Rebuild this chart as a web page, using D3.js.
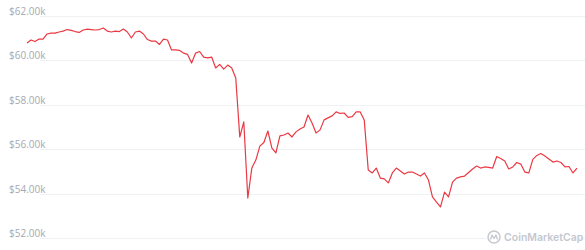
<!DOCTYPE html>
<html>
<head>
<meta charset="utf-8">
<script src="https://cdn.jsdelivr.net/npm/d3@7"></script>
<style>
  body { margin: 0; background: #fff; }
  .c-grid line { stroke: #eff2f5; stroke-width: 1; }
  .c-grid text { fill: #a6a9b0; font-family: "Open Sans", sans-serif; font-size: 10px; }
  .c-line path { fill: none; stroke: #ea3943; stroke-width: 1.2; stroke-linejoin: round; }
</style>
</head>
<body>
<div id="priceChart"></div>
<script>
// price samples (USD), evenly spaced in time
const prices = [
  60780, 60920, 60850, 60960, 60960, 61190, 61230, 61230, 61280, 61320,
  61390, 61350, 61300, 61260, 61370, 61410, 61390, 61370, 61390, 61460,
  61320, 61280, 61320, 61300, 61410, 61280, 61010, 61280, 61320, 61190,
  60940, 60870, 60870, 60720, 60960, 60920, 60470, 60470, 60450, 60330,
  60270, 59880, 60330, 60400, 60150, 60110, 60150, 59660, 59820, 59610,
  59790, 59660, 59210, 56550, 57230, 53800, 55150, 55510, 56140, 56300,
  56820, 56050, 55830, 56600, 56640, 56730, 56550, 56780, 56910, 57000,
  57540, 57180, 56730, 56870, 57320, 57410, 57500, 57680, 57610, 57630,
  57430, 57470, 57680, 57680, 57320, 55060, 54930, 55150, 54700, 54660,
  54480, 54930, 55150, 55020, 54880, 54970, 54970, 54880, 54790, 54930,
  54610, 53850, 53620, 53400, 54070, 53850, 54520, 54700, 54750, 54790,
  54950, 55110, 55240, 55150, 55200, 55180, 55150, 55670, 55580, 55470,
  55110, 55200, 55400, 55330, 54970, 54930, 55540, 55720, 55810, 55690,
  55560, 55420, 55470, 55400, 55200, 55220, 54930, 55150
];
const priceTicks = [52000, 54000, 56000, 58000, 60000, 62000];
const tickLabels = ['$52.00k', '$54.00k', '$56.00k', '$58.00k', '$60.00k', '$62.00k'];
const brandName = 'CoinMarketCap';

class PriceChart {
  constructor(prices) {
    this.prices = prices;
    this.chartContainer = d3.select('#priceChart');
    this.chart = null;
    this.chartWidth = 585;
    this.chartHeight = 250;
    this.priceScale = null;
    this.timeScale = null;
  }

  render() {
    this.createSvg();
    this.initScales();
    this.drawGrid();
    this.drawLine();
    this.drawLogo();
  }

  createSvg() {
    this.chart = this.chartContainer
      .append('svg')
      .attr('width', this.chartWidth)
      .attr('height', this.chartHeight);
  }

  initScales() {
    this.priceScale = d3.scaleLinear().domain([52000, 62000]).range([238, 16]);
    this.timeScale = d3.scaleLinear().domain([0, this.prices.length - 1]).range([27, 577]);
  }

  drawGrid() {
    let grid = this.chart.append('g').attr('class', 'c-grid');
    let rows = grid.selectAll('g')
      .data(priceTicks)
      .enter()
      .append('g')
      .attr('transform', (d) => 'translate(0, ' + (Math.round(this.priceScale(d)) + 0.5) + ')');

    rows.append('line')
      .attr('x1', 40)
      .attr('x2', this.chartWidth);

    rows.append('text')
      .attr('x', 9)
      .attr('y', -1.5)
      .text((d, i) => tickLabels[i]);
  }

  drawLine() {
    let line = d3.line()
      .x((d, i) => this.timeScale(i))
      .y((d) => this.priceScale(d));

    this.chart
      .append('g')
      .attr('class', 'c-line')
      .append('path')
      .attr('d', line(this.prices));
  }

  drawLogo() {
    // watermark, bottom right
    let logo = this.chart.append('g').attr('transform', 'translate(494, 237)');
    logo.append('rect')
      .attr('x', -8).attr('y', -8).attr('width', 92).attr('height', 16)
      .attr('fill', '#fff');
    logo.append('circle')
      .attr('r', 6)
      .attr('fill', 'none')
      .attr('stroke', '#c5c8cf')
      .attr('stroke-width', 1.5);
    logo.append('path')
      .attr('d', 'M-3.5,2.5 L-2,-2 L0,1.5 L2,-2 L3.5,2.5')
      .attr('fill', 'none')
      .attr('stroke', '#c5c8cf')
      .attr('stroke-width', 1.3)
      .attr('stroke-linejoin', 'round');
    logo.append('text')
      .attr('x', 10)
      .attr('y', 4)
      .attr('fill', '#c5c8cf')
      .attr('font-family', 'Inter, sans-serif')
      .attr('font-weight', 600)
      .attr('font-size', '10.5px')
      .text(brandName);
  }
}

new PriceChart(prices).render();
</script>
</body>
</html>
